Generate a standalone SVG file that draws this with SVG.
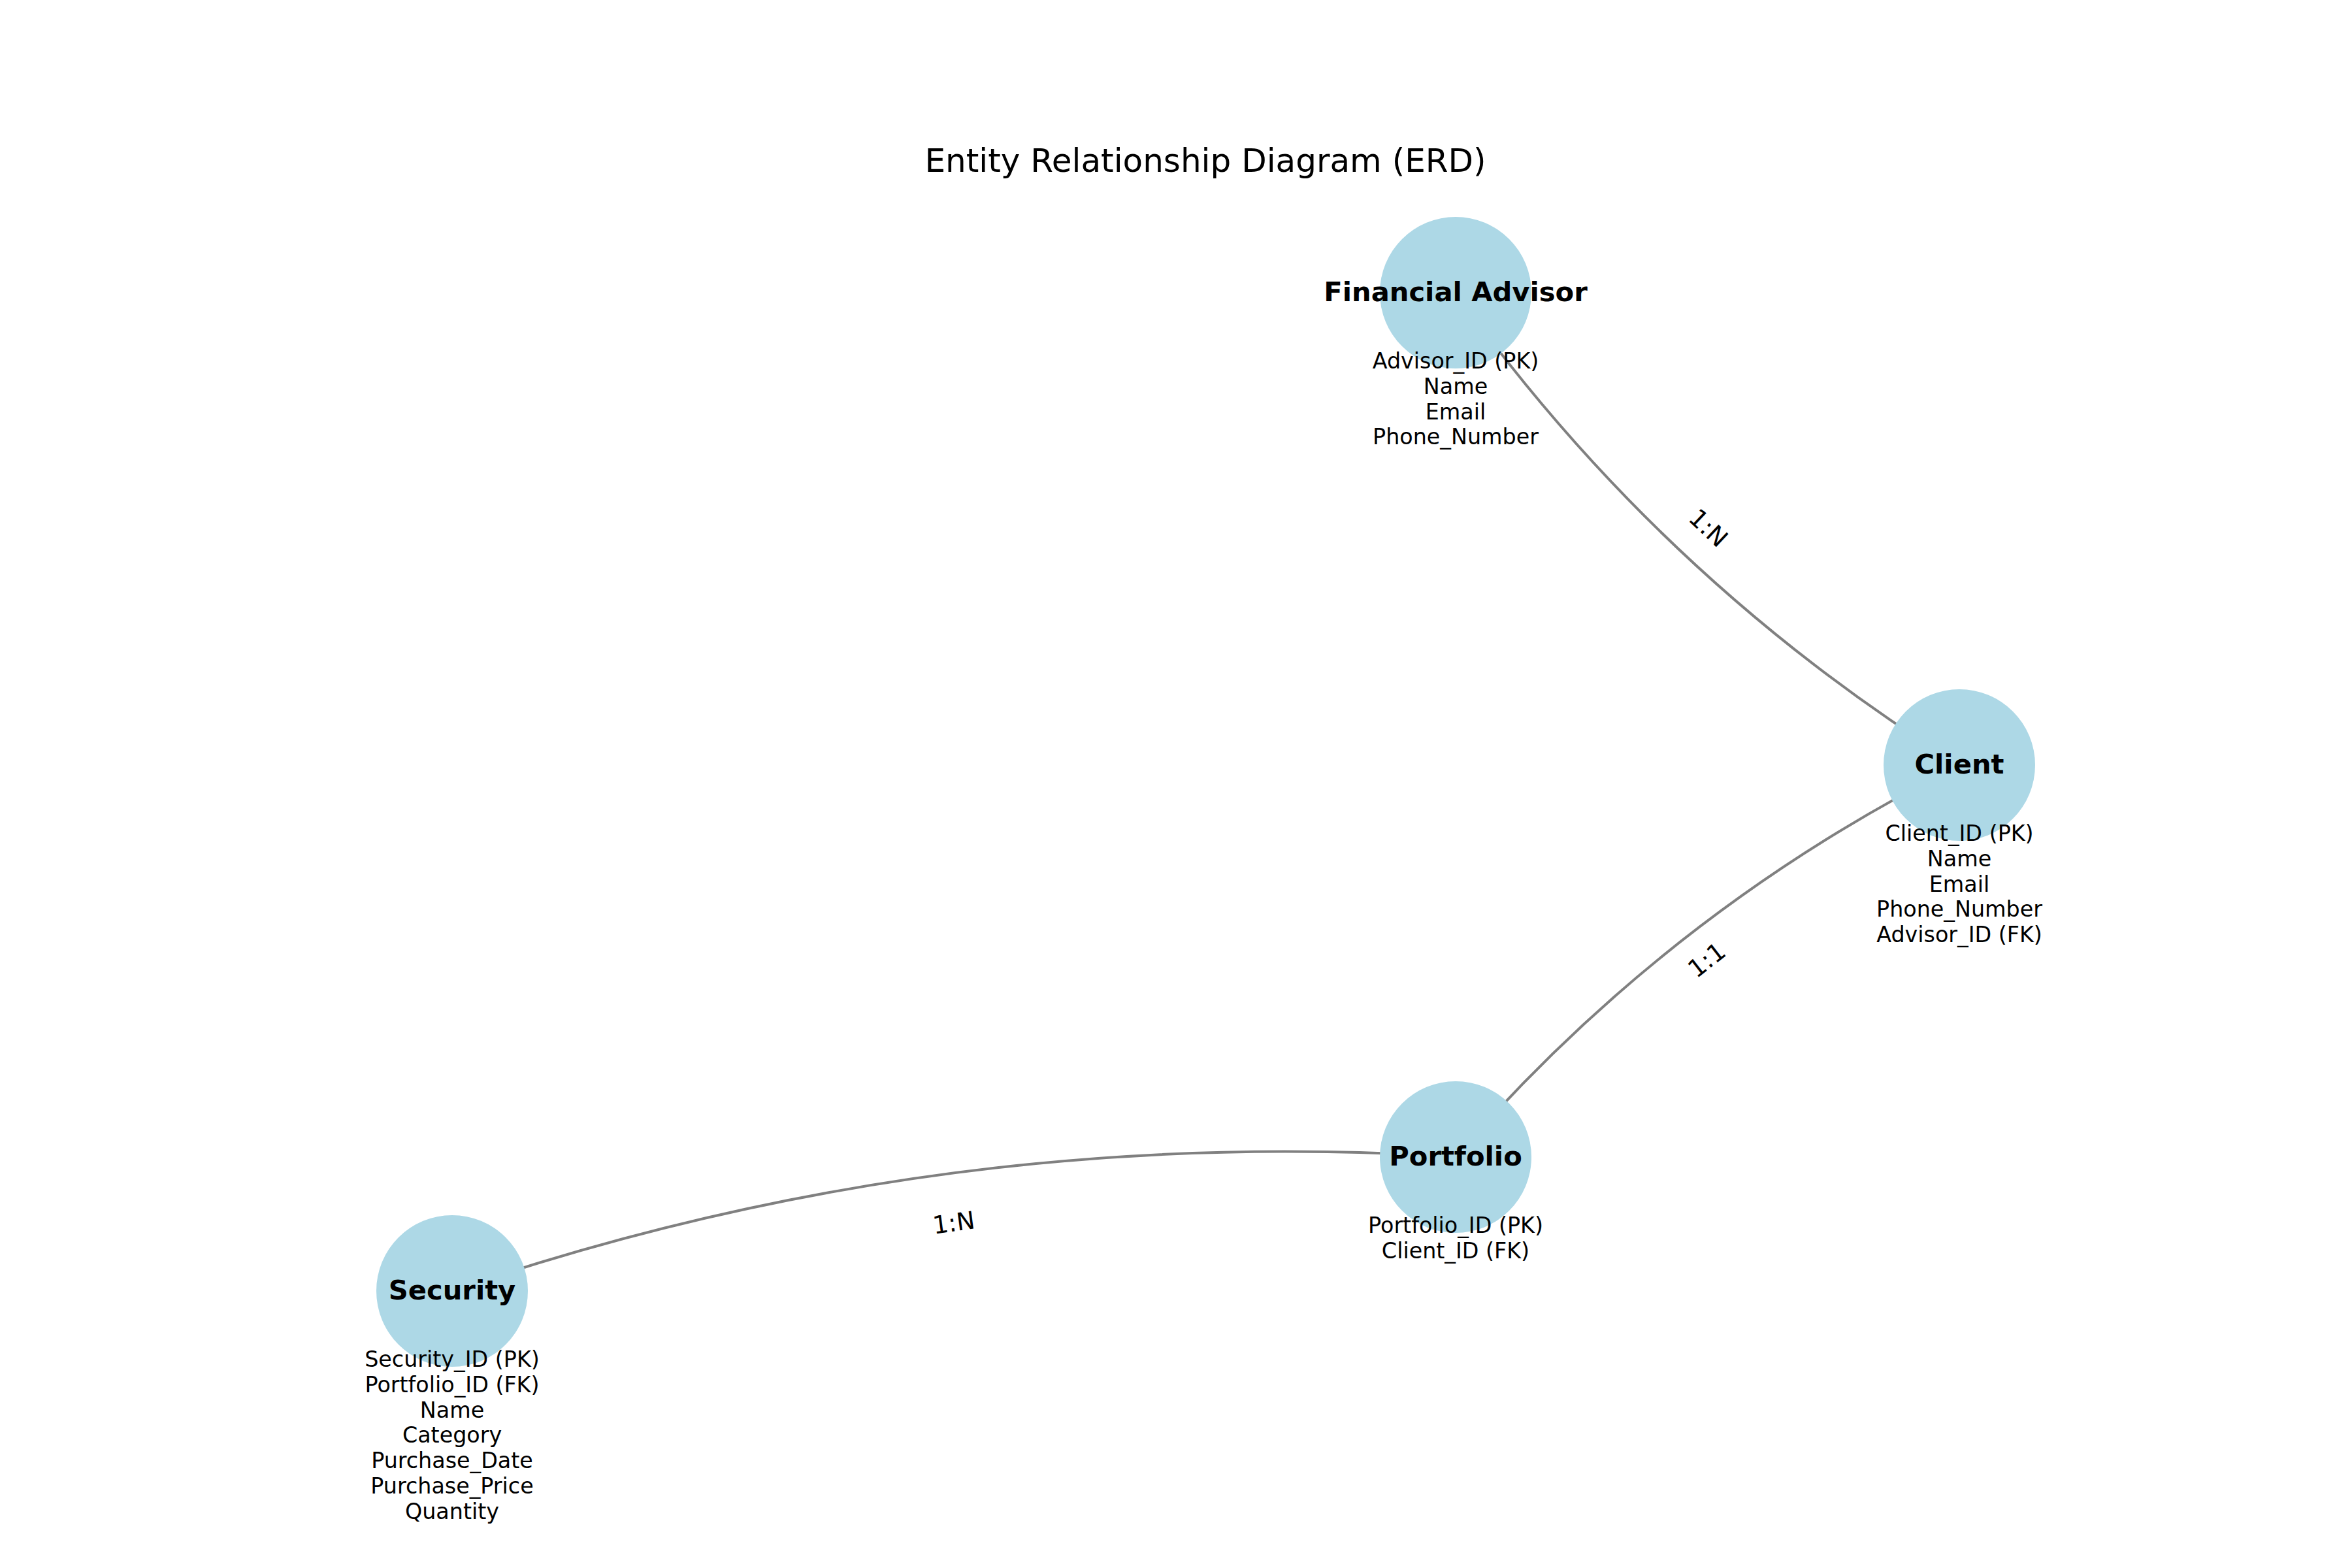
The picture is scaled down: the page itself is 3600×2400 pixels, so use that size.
<svg xmlns="http://www.w3.org/2000/svg" width="3600" height="2400" viewBox="0 0 3600 2400">
<style>
.bg{fill:#ffffff}
.edge{fill:none;stroke:#808080;stroke-width:4}
.node{fill:#ADD8E6}
.title{font-family:"DejaVu Sans","Liberation Sans",sans-serif;font-size:50px;fill:#000;text-anchor:middle}
.name{font-family:"DejaVu Sans","Liberation Sans",sans-serif;font-size:41.67px;font-weight:bold;fill:#000;text-anchor:middle}
.attr{font-family:"DejaVu Sans","Liberation Sans",sans-serif;font-size:33.33px;fill:#000;text-anchor:middle}
.elabel{font-family:"DejaVu Sans","Liberation Sans",sans-serif;font-size:37.5px;fill:#000;text-anchor:middle}
</style>
<rect class="bg" x="0" y="0" width="3600" height="2400"/>
<text class="title" x="1845" y="263">Entity Relationship Diagram (ERD)</text>
<g id="connectors">
<path class="edge" d="M 2228 448 Q 2541.2 886.6 2999 1171"/>
<path class="edge" d="M 2999 1171 Q 2553.5 1393.9 2228 1771"/>
<path class="edge" d="M 2228 1771 Q 1439.5 1719.9 692 1976"/>
<text class="elabel" transform="translate(2613.5,809.5) rotate(43.2)" x="0" y="11">1:N</text>
<text class="elabel" transform="translate(2613.5,1471) rotate(-37.9)" x="0" y="11">1:1</text>
<text class="elabel" transform="translate(1460,1873.5) rotate(-7.6)" x="0" y="11">1:N</text>
</g>
<g id="node-financial-advisor">
<circle class="node" cx="2228" cy="448" r="116"/>
<text class="name" x="2228" y="461">Financial Advisor</text>
<text class="attr" x="2228" y="564">Advisor_ID (PK)</text>
<text class="attr" x="2228" y="602.8">Name</text>
<text class="attr" x="2228" y="641.6">Email</text>
<text class="attr" x="2228" y="680.4">Phone_Number</text>
</g>
<g id="node-client">
<circle class="node" cx="2999" cy="1171" r="116"/>
<text class="name" x="2999" y="1184">Client</text>
<text class="attr" x="2999" y="1287">Client_ID (PK)</text>
<text class="attr" x="2999" y="1325.8">Name</text>
<text class="attr" x="2999" y="1364.6">Email</text>
<text class="attr" x="2999" y="1403.4">Phone_Number</text>
<text class="attr" x="2999" y="1442.2">Advisor_ID (FK)</text>
</g>
<g id="node-portfolio">
<circle class="node" cx="2228" cy="1771" r="116"/>
<text class="name" x="2228" y="1784">Portfolio</text>
<text class="attr" x="2228" y="1887">Portfolio_ID (PK)</text>
<text class="attr" x="2228" y="1925.8">Client_ID (FK)</text>
</g>
<g id="node-security">
<circle class="node" cx="692" cy="1976" r="116"/>
<text class="name" x="692" y="1989">Security</text>
<text class="attr" x="692" y="2092">Security_ID (PK)</text>
<text class="attr" x="692" y="2130.8">Portfolio_ID (FK)</text>
<text class="attr" x="692" y="2169.6">Name</text>
<text class="attr" x="692" y="2208.4">Category</text>
<text class="attr" x="692" y="2247.2">Purchase_Date</text>
<text class="attr" x="692" y="2286">Purchase_Price</text>
<text class="attr" x="692" y="2324.8">Quantity</text>
</g>
</svg>
